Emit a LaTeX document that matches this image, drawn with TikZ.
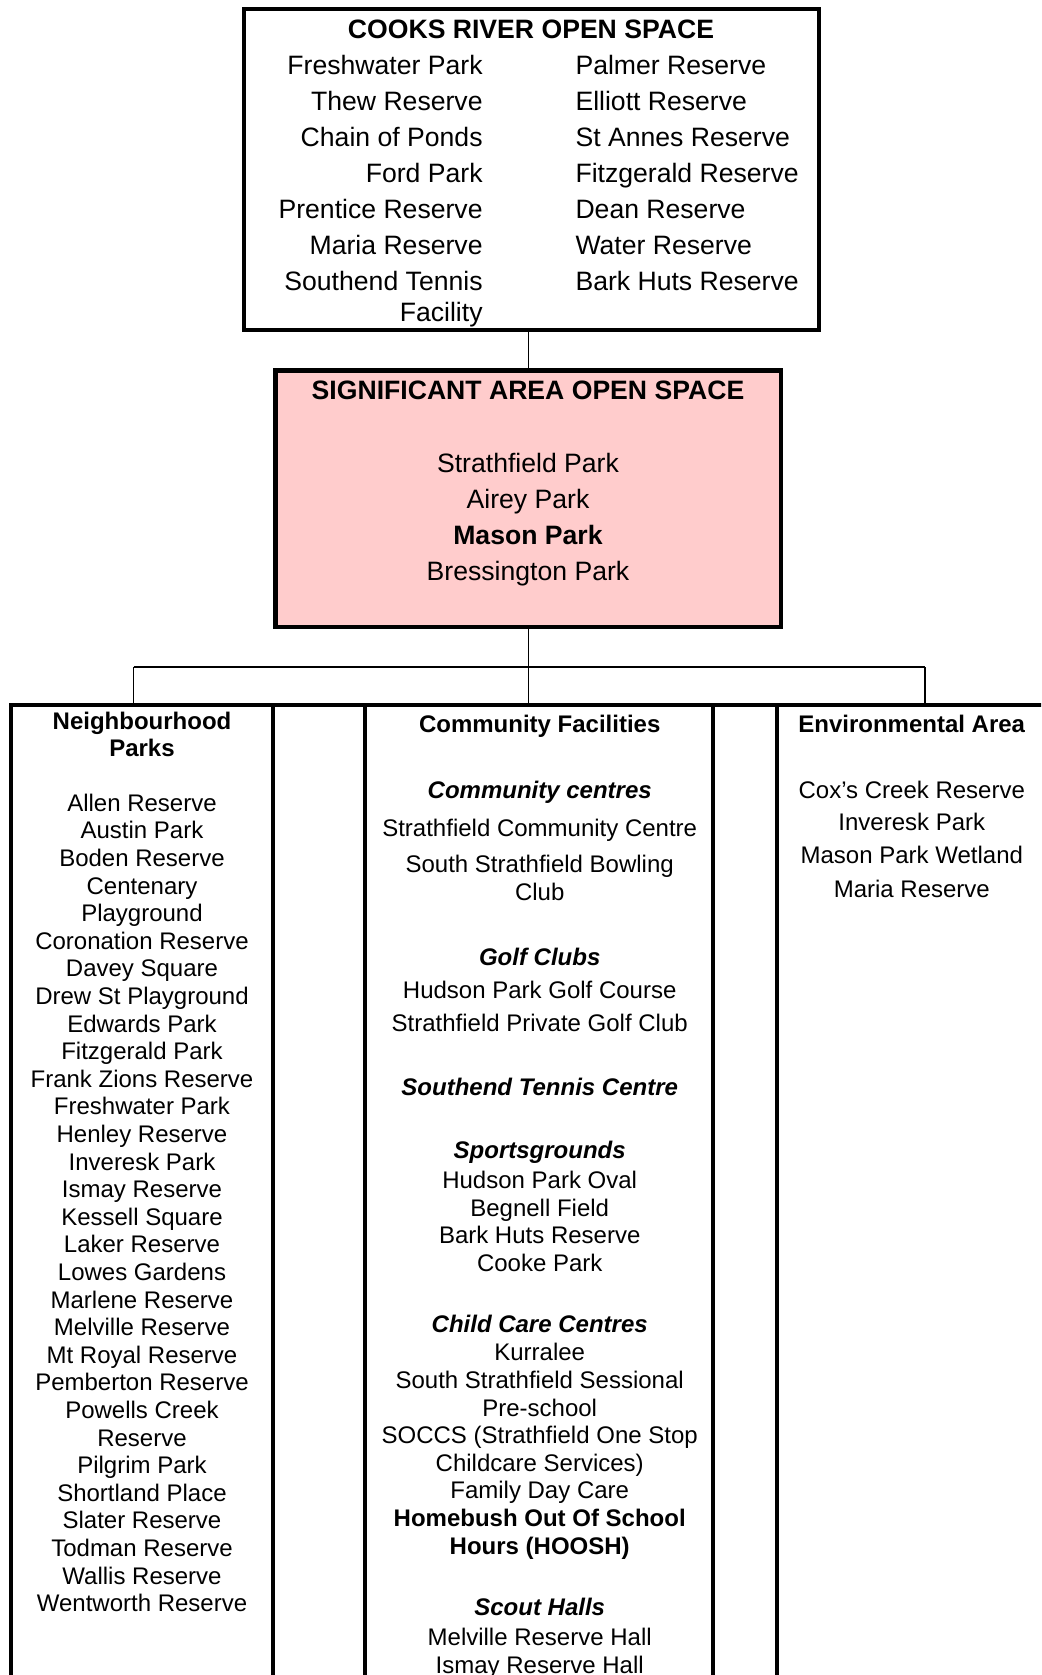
\documentclass[tikz,border=0pt]{standalone}
\usepackage{fontspec}
\setmainfont{Liberation Sans}
\usepackage{xcolor}
\usetikzlibrary{positioning}
\definecolor{sigpink}{RGB}{255,204,204}

\newcommand{\bigtxt}{\fontsize{13.3}{15.5}\selectfont}
\newcommand{\smalltxt}{\fontsize{12}{13.8}\selectfont}
\newcommand{\sect}[1]{\textbf{\textit{#1}}}

\begin{document}
\begin{tikzpicture}[
    x=0.5pt, y=0.5pt,
    frame/.style={draw, line width=2.2pt, inner sep=0pt, outer sep=0pt},
    cell/.style={frame, anchor=north west, minimum height=500pt},
    bigtext/.style={font=\bigtxt, inner sep=0pt, outer sep=0pt},
    coltext/.style={font=\smalltxt, inner sep=0pt, outer sep=0pt, align=center, anchor=north},
    link/.style={line width=0.7pt}
]
\useasboundingbox (0,0) rectangle (1041,-1675);
\clip (0,0) rectangle (1041,-1675);

% top box
\node[frame, anchor=north west, minimum width=287.5pt, minimum height=160.5pt] (cooks) at (244,-9) {};
\node[bigtext, anchor=base] (cookstitle) at (531,-38.4) {\textbf{COOKS RIVER OPEN SPACE}};
\node[bigtext, align=right, anchor=north east] (cooksleft) at (482.6,-55.3) {%
  Freshwater Park\\[2.5pt]
  Thew Reserve\\[2.5pt]
  Chain of Ponds\\[2.5pt]
  Ford Park\\[2.5pt]
  Prentice Reserve\\[2.5pt]
  Maria Reserve\\[2.5pt]
  Southend Tennis\\
  Facility};
\node[bigtext, align=left, anchor=north west] (cooksright) at (575.5,-55.3) {%
  Palmer Reserve\\[2.5pt]
  Elliott Reserve\\[2.5pt]
  St Annes Reserve\\[2.5pt]
  Fitzgerald Reserve\\[2.5pt]
  Dean Reserve\\[2.5pt]
  Water Reserve\\[2.5pt]
  Bark Huts Reserve};

% significant area
\node[frame, fill=sigpink, anchor=north west, minimum width=252.75pt, minimum height=128.25pt] (sig) at (275.5,-370.5) {};
\node[bigtext, align=center, anchor=north, font=\fontsize{13.3}{18}\selectfont] (sigtext) at (528,-381.3) {%
  \textbf{SIGNIFICANT AREA OPEN SPACE}\\[18.35pt]
  Strathfield Park\\
  Airey Park\\
  \textbf{Mason Park}\\
  Bressington Park};

% bottom row
\node[cell, minimum width=131pt] (np) at (11,-705) {};
\node[cell, minimum width=46pt, right=0pt of np] (gapA) {};
\node[cell, minimum width=174pt, right=0pt of gapA] (cf) {};
\node[cell, minimum width=32pt, right=0pt of cf] (gapB) {};
\node[cell, minimum width=135.5pt, right=0pt of gapB] (env) {};

\coordinate (busL) at (133.5,-667);
\coordinate (busR) at (925,-667);
\coordinate (busM) at (sig.south |- busL);

\draw[link] (sig.north |- cooks.south) -- (sig.north);
\draw[link] (sig.south) -- (busM);
\draw[link] (busL) -- (busR);
\draw[link] (busL) -- (busL |- np.north);
\draw[link] (busM) -- (busM |- cf.north);
\draw[link] (busR) -- (busR |- env.north);

\node[coltext] (nptext) at (142,-711.8) {%
  \textbf{Neighbourhood}\\
  \textbf{Parks}\\[13.4pt]
  Allen Reserve\\
  Austin Park\\
  Boden Reserve\\
  Centenary\\
  Playground\\
  Coronation Reserve\\
  Davey Square\\
  Drew St Playground\\
  Edwards Park\\
  Fitzgerald Park\\
  Frank Zions Reserve\\
  Freshwater Park\\
  Henley Reserve\\
  Inveresk Park\\
  Ismay Reserve\\
  Kessell Square\\
  Laker Reserve\\
  Lowes Gardens\\
  Marlene Reserve\\
  Melville Reserve\\
  Mt Royal Reserve\\
  Pemberton Reserve\\
  Powells Creek\\
  Reserve\\
  Pilgrim Park\\
  Shortland Place\\
  Slater Reserve\\
  Todman Reserve\\
  Wallis Reserve\\
  Wentworth Reserve};

\node[coltext] (cftext) at (539.7,-715.2) {%
  \textbf{Community Facilities}\\[19.3pt]
  \sect{Community centres}\\[4.9pt]
  Strathfield Community Centre\\[4.35pt]
  South Strathfield Bowling\\
  Club\\[18.8pt]
  \sect{Golf Clubs}\\[2.75pt]
  Hudson Park Golf Course\\[2.75pt]
  Strathfield Private Golf Club\\[18.2pt]
  \sect{Southend Tennis Centre}\\[17.7pt]
  \sect{Sportsgrounds}\\[1.15pt]
  Hudson Park Oval\\
  Begnell Field\\
  Bark Huts Reserve\\
  Cooke Park\\[16.6pt]
  \sect{Child Care Centres}\\[0.6pt]
  Kurralee\\
  South Strathfield Sessional\\
  Pre-school\\
  SOCCS (Strathfield One Stop\\
  Childcare Services)\\
  Family Day Care\\
  \textbf{Homebush Out Of School}\\
  \textbf{Hours (HOOSH)}\\[17.1pt]
  \sect{Scout Halls}\\[1.15pt]
  Melville Reserve Hall\\
  Ismay Reserve Hall};

\node[coltext] (envtext) at (911.8,-715.2) {%
  \textbf{Environmental Area}\\[19.3pt]
  Cox’s Creek Reserve\\[2.2pt]
  Inveresk Park\\[2.75pt]
  Mason Park Wetland\\[2.75pt]
  Maria Reserve};
\end{tikzpicture}
\end{document}
